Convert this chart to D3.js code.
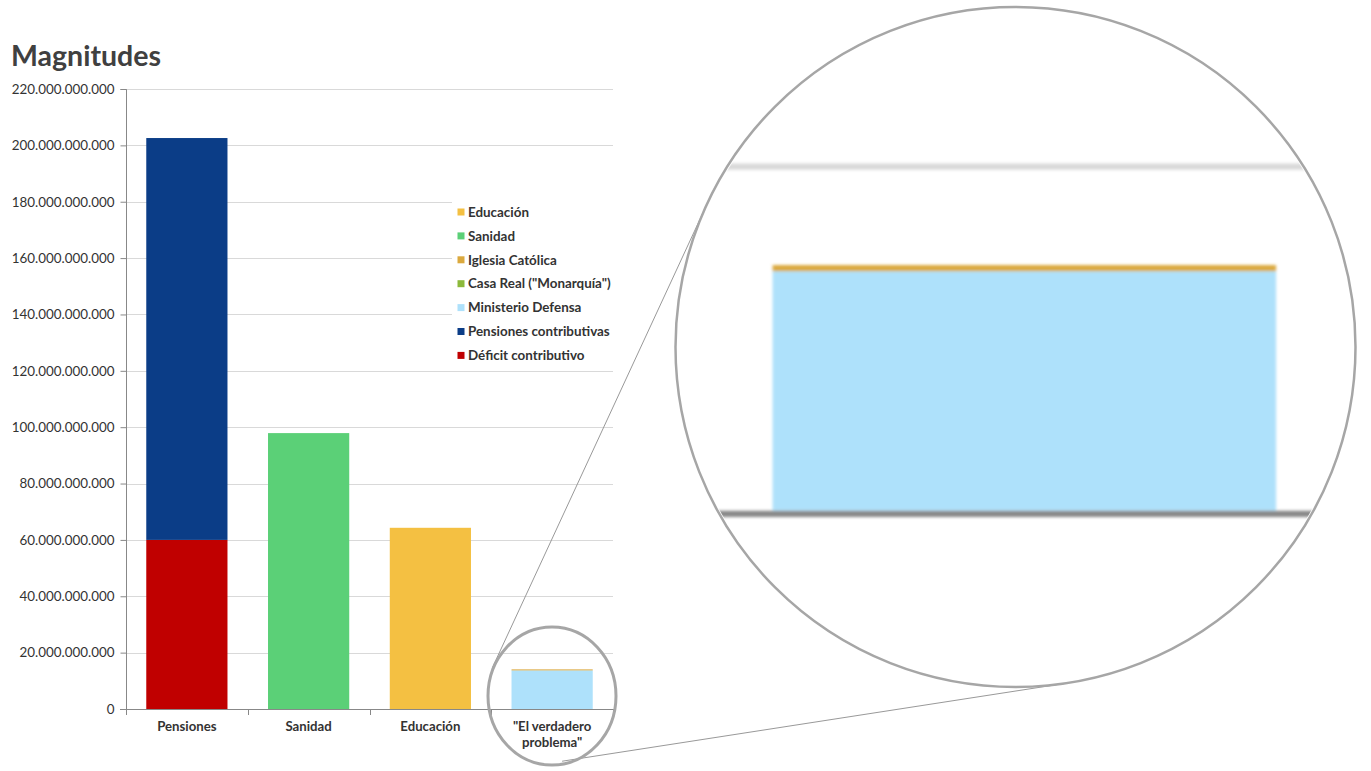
<!DOCTYPE html>
<html><head><meta charset="utf-8">
<script src="https://cdn.jsdelivr.net/npm/d3@7"></script>
<style>body{margin:0;background:#fff}text{font-family:Lato,"Open Sans",sans-serif}</style>
</head><body><svg id="c" width="1371" height="771"></svg>
<script>
const categories = ["Pensiones", "Sanidad", "Educación", "\"El verdadero problema\""];
const seriesNames = ["Déficit contributivo", "Pensiones contributivas", "Ministerio Defensa", "Casa Real (\"Monarquía\")", "Iglesia Católica", "Sanidad", "Educación"];
const seriesColors = ["#c00000", "#0b3d87", "#aee1fb", "#8cb93b", "#dba93e", "#5bd077", "#f4c042"];
const deficitContributivo = [60.0e9, 0, 0, 0];
const pensionesContributivas = [142.6e9, 0, 0, 0];
const ministerioDefensa = [0, 0, 0, 13.7e9];
const casaReal = [0, 0, 0, 0.008e9];
const iglesiaCatolica = [0, 0, 0, 0.35e9];
const sanidad = [0, 97.9e9, 0, 0];
const educacion = [0, 0, 64.3e9, 0];
const yTicks = [0, 20e9, 40e9, 60e9, 80e9, 100e9, 120e9, 140e9, 160e9, 180e9, 200e9, 220e9];

const seriesValues = [deficitContributivo, pensionesContributivas, ministerioDefensa, casaReal, iglesiaCatolica, sanidad, educacion];
const rows = categories.map((c, i) => {
  const r = {cat: c};
  seriesNames.forEach((s, j) => r[s] = seriesValues[j][i]);
  return r;
});
const stacked = d3.stack().keys(seriesNames)(rows);

const svg = d3.select("#c");
const L = 126, R = 613, T = 89, B = 709;
const x = d3.scaleBand().domain(categories).range([L, R]).paddingInner(0.333).paddingOuter(0.1665);
const y = d3.scaleLinear().domain([0, 220e9]).range([B, T]);
const loc = d3.formatLocale({decimal: ",", thousands: ".", grouping: [3], currency: ["", "€"]});
const fmt = loc.format(",d");

svg.append("text").attr("x", 11).attr("y", 66).attr("font-size", 28.5).attr("font-weight", "bold").attr("fill", "#404040").text("Magnitudes");

function drawPlot(g, withAxes) {
  g.append("g").selectAll("line").data(yTicks.slice(1)).join("line")
    .attr("x1", L).attr("x2", R).attr("y1", d => Math.round(y(d)) + 0.5).attr("y2", d => Math.round(y(d)) + 0.5)
    .attr("stroke", "#d9d9d9").attr("stroke-width", 1);
  stacked.forEach((s, j) => {
    g.append("g").selectAll("rect").data(s.filter(d => d[1] - d[0] > 0)).join("rect")
      .attr("x", d => x(d.data.cat)).attr("width", x.bandwidth())
      .attr("y", d => y(d[1])).attr("height", d => y(d[0]) - y(d[1]))
      .attr("fill", seriesColors[j]);
  });
  g.append("line").attr("x1", withAxes ? L - 6 : L).attr("x2", R).attr("y1", B + 0.5).attr("y2", B + 0.5).attr("stroke", "#888");
}

const main = svg.append("g");
drawPlot(main, true);

// y axis
const yAxis = svg.append("g").attr("transform", `translate(${L + 0.5},0)`)
  .call(d3.axisLeft(y).tickValues(yTicks).tickFormat(fmt).tickSize(6).tickPadding(6));
yAxis.select(".domain").attr("stroke", "#888").attr("d", `M-6,${T + 0.5}H0V${B + 0.5}`);
yAxis.selectAll(".tick line").attr("stroke", "#888");
yAxis.selectAll(".tick text").attr("font-size", 13.4).attr("fill", "#333").attr("font-family", "Lato");

// x axis ticks at band boundaries
const bounds = categories.map(c => x(c) - x.step() * x.paddingInner() / 2).concat([R]);
svg.append("g").selectAll("line").data(bounds).join("line")
  .attr("x1", d => Math.round(d) + 0.5).attr("x2", d => Math.round(d) + 0.5).attr("y1", B).attr("y2", B + 6).attr("stroke", "#888");
const labels = {"\"El verdadero problema\"": ["\"El verdadero", "problema\""]};
categories.forEach(c => {
  const lines = labels[c] || [c];
  const t = svg.append("text").attr("x", x(c) + x.bandwidth() / 2).attr("y", 731).attr("text-anchor", "middle")
    .attr("font-size", 13.2).attr("font-weight", "bold").attr("fill", "#333");
  lines.forEach((ln, i) => t.append("tspan").attr("x", x(c) + x.bandwidth() / 2).attr("dy", i ? 15.5 : 0).text(ln));
});

// legend
const leg = svg.append("g");
leg.append("rect").attr("x", 452).attr("y", 199).attr("width", 165).attr("height", 167).attr("fill", "#fff");
const legOrder = seriesNames.map((s, j) => j).reverse();
legOrder.forEach((j, i) => {
  const yy = 212 + i * 23.9;
  leg.append("rect").attr("x", 457.5).attr("y", yy - 3.5).attr("width", 7).attr("height", 7).attr("fill", seriesColors[j]);
  leg.append("text").attr("x", 468).attr("y", yy + 4.7).attr("font-size", 13.4).attr("font-weight", "bold").attr("fill", "#333").text(seriesNames[j]);
});

// magnifier
const big = {cx: 1015.5, cy: 347, r: 340};
const small = {cx: 552, cy: 696, rx: 64, ry: 69};
const src = {x: 550.7, y: 682.6}, k = 6.2;
const defs = svg.append("defs");
defs.append("clipPath").attr("id", "mclip").append("circle").attr("cx", big.cx).attr("cy", big.cy).attr("r", big.r - 2);
defs.append("filter").attr("id", "blur").attr("x", "-5%").attr("y", "-5%").attr("width", "110%").attr("height", "110%")
  .append("feGaussianBlur").attr("stdDeviation", 1.6);

// tangent lines
const rs = 66;
const dx = big.cx - small.cx, dy = big.cy - small.cy, D = Math.hypot(dx, dy);
const base = Math.atan2(dy, dx), th = Math.acos(-(big.r - rs) / D);
[base + th, base - th].forEach(a => {
  const nx = Math.cos(a), ny = Math.sin(a);
  svg.append("line").attr("x1", small.cx + rs * nx).attr("y1", small.cy + rs * ny)
    .attr("x2", big.cx + big.r * nx).attr("y2", big.cy + big.r * ny).attr("stroke", "#999").attr("stroke-width", 1);
});

svg.append("circle").attr("cx", big.cx).attr("cy", big.cy).attr("r", big.r).attr("fill", "#fff");
const mg = svg.append("g").attr("clip-path", "url(#mclip)").append("g").attr("filter", "url(#blur)")
  .append("g").attr("transform", `translate(${big.cx},${big.cy}) scale(${k}) translate(${-src.x},${-src.y})`);
drawPlot(mg, false);
svg.append("circle").attr("cx", big.cx).attr("cy", big.cy).attr("r", big.r).attr("fill", "none").attr("stroke", "#a6a6a6").attr("stroke-width", 2.5);
svg.append("ellipse").attr("cx", small.cx).attr("cy", small.cy).attr("rx", small.rx).attr("ry", small.ry).attr("fill", "none").attr("stroke", "#a6a6a6").attr("stroke-width", 3);
</script></body></html>
